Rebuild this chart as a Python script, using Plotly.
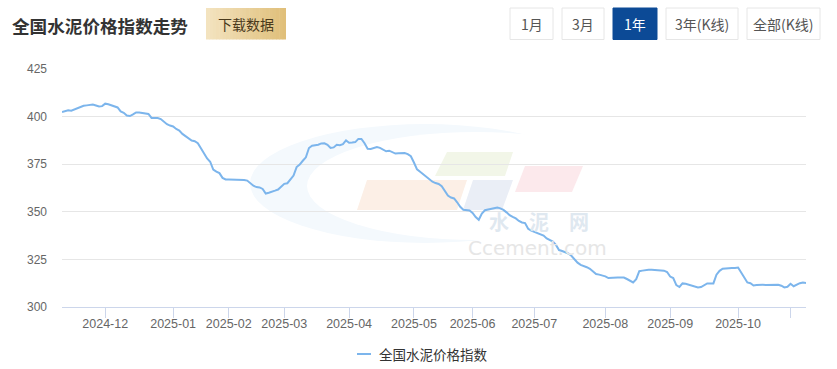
import plotly.graph_objects as go

# ---------------- data ----------------
months = ["2024-11", "2024-12", "2025-01", "2025-02", "2025-03", "2025-04", "2025-05",
          "2025-06", "2025-07", "2025-08", "2025-09", "2025-10", "2025-11"]
days_in_month = [
    [12, 13, 14, 15, 18, 19, 20, 21, 22, 25, 26, 27, 28, 29],
    [2, 3, 4, 5, 6, 9, 10, 11, 12, 13, 16, 17, 18, 19, 20, 23, 24, 25, 26, 27, 30, 31],
    [2, 3, 6, 7, 8, 9, 10, 13, 14, 15, 16, 17, 20, 21, 22, 23, 24, 27],
    [5, 6, 7, 10, 11, 12, 13, 14, 17, 18, 19, 20, 21, 24, 25, 26, 27, 28],
    [3, 4, 5, 6, 7, 10, 11, 12, 13, 14, 17, 18, 19, 20, 21, 24, 25, 26, 27, 28, 31],
    [1, 2, 3, 7, 8, 9, 10, 11, 14, 15, 16, 17, 18, 21, 22, 23, 24, 25, 28, 29, 30],
    [6, 7, 8, 9, 12, 13, 14, 15, 16, 19, 20, 21, 22, 23, 26, 27, 28, 29, 30],
    [3, 4, 5, 6, 9, 10, 11, 12, 13, 16, 17, 18, 19, 20, 23, 24, 25, 26, 27, 30],
    [1, 2, 3, 4, 7, 8, 9, 10, 11, 14, 15, 16, 17, 18, 21, 22, 23, 24, 25, 28, 29, 30, 31],
    [1, 4, 5, 6, 7, 8, 11, 12, 13, 14, 15, 18, 19, 20, 21, 22, 25, 26, 27, 28, 29],
    [1, 2, 3, 4, 5, 8, 9, 10, 11, 12, 15, 16, 17, 18, 19, 22, 23, 24, 25, 26, 29, 30],
    [9, 10, 13, 14, 15, 16, 17, 20, 21, 22, 23, 24, 27, 28, 29, 30, 31],
    [3, 4, 5, 6, 7, 10],
]
index_values = [
    # 2024-11
    402.4, 403.0, 403.3, 403.1, 403.8, 404.6, 405.4, 405.7, 405.9, 406.1, 406.3, 405.8, 405.3, 405.5,
    # 2024-12
    406.8, 406.5, 405.9, 405.2, 404.8, 402.7, 402.0, 400.6, 400.3, 401.2, 402.2, 402.2, 401.9, 401.4,
    401.4, 399.3, 399.3, 399.2, 398.7, 397.5, 396.0, 395.3,
    # 2025-01
    394.8, 393.5, 392.7, 390.9, 389.8, 388.9, 387.4, 387.1, 386.0, 383.4, 380.5, 378.0, 376.3, 372.2,
    371.1, 370.3, 367.8, 367.0,
    # 2025-02
    367.0, 367.0, 367.0, 366.9, 366.9, 366.7, 366.4, 365.1, 363.7, 363.0, 362.8, 362.0, 359.6, 360.0,
    360.4, 361.1, 361.7, 363.2,
    # 2025-03
    364.7, 365.0, 367.0, 369.0, 373.5, 374.8, 376.8, 378.6, 383.5, 384.7, 385.0, 385.2, 385.9, 386.0,
    385.2, 383.5, 383.8, 385.2, 385.0, 385.5, 387.5,
    # 2025-04
    386.3, 386.4, 386.6, 388.3, 388.3, 386.0, 383.1, 383.0, 383.5, 384.0, 383.6, 382.5, 381.8, 382.1,
    381.5, 380.6, 380.7, 381.0, 380.9, 380.3, 379.2,
    # 2025-05
    375.9, 372.3, 371.0, 369.7, 368.0, 366.7, 365.8, 365.1, 364.6, 363.4, 360.7, 358.5, 357.5, 357.0,
    355.0, 352.6, 351.1, 350.9, 350.7,
    # 2025-06
    349.4, 347.2, 345.8, 349.1, 350.8, 351.2, 351.6, 351.9, 352.2, 351.8, 351.0, 349.7, 348.2, 347.3,
    346.5, 345.2, 344.4, 344.1, 341.1, 340.1,
    # 2025-07
    339.5, 338.6, 338.0, 337.5, 336.0, 335.2, 334.4, 332.6, 329.9, 329.4, 328.9, 328.1, 326.9, 324.8,
    323.3, 322.1, 321.6, 320.9, 320.1, 318.5, 317.3, 317.0, 316.7,
    # 2025-08
    316.1, 315.2, 315.4, 315.5, 315.5, 315.5, 315.5, 314.7, 313.9, 312.9, 314.6, 318.8, 319.1, 319.4,
    319.6, 319.5, 319.4, 319.3, 319.3, 319.1, 318.4,
    # 2025-09
    316.0, 315.2, 311.5, 310.5, 312.4, 312.2, 311.8, 311.3, 310.7, 310.3, 310.5, 311.4, 312.4, 312.4,
    312.4, 317.0, 319.0, 320.1, 320.3, 320.5, 320.5, 320.5,
    # 2025-10
    320.7, 318.1, 315.7, 312.9, 312.5, 311.3, 311.5, 311.7, 311.7, 311.6, 311.6, 311.6, 311.6, 311.7,
    311.2, 310.3, 310.6,
    # 2025-11
    312.2, 310.9, 311.8, 312.5, 312.8, 312.6,
]
tick_dates = ["2024-12-02", "2025-01-02", "2025-02-05", "2025-03-03", "2025-04-01", "2025-05-06",
              "2025-06-03", "2025-07-01", "2025-08-01", "2025-09-01", "2025-10-09", "2025-11-03"]
tick_labels = ["2024-12", "2025-01", "2025-02", "2025-03", "2025-04", "2025-05",
               "2025-06", "2025-07", "2025-08", "2025-09", "2025-10", ""]
y_ticks = [300, 325, 350, 375, 400, 425]
series_name = "全国水泥价格指数"
title_text = "全国水泥价格指数走势"
range_buttons = ["1月", "3月", "1年", "3年(K线)", "全部(K线)"]
line_color = "#7cb5ec"

dates = [f"{m}-{d:02d}" for m, ds in zip(months, days_in_month) for d in ds]

# ---------------- layout helpers ----------------
W, H = 837, 369
L, R, T, B = 62, 31, 69, 62
PW, PH = W - L - R, H - T - B


def px(x):
    return (x - L) / PW


def py(y):
    return (H - B - y) / PH


FONT = "Liberation Sans, Arial, Noto Sans CJK SC, sans-serif"
CJK = "Noto Sans CJK SC, sans-serif"

fig = go.Figure()
fig.add_trace(go.Scatter(
    x=dates, y=index_values, mode="lines", name=series_name,
    line=dict(color=line_color, width=2), showlegend=False,
))

shapes = []
annotations = []

# --- watermark (Ccement logo) ---
shapes.append(dict(type="circle", xref="paper", yref="paper", layer="below",
                   x0=px(250), x1=px(600), y0=py(243), y1=py(124),
                   fillcolor="#f4f9fd", line=dict(width=0)))
shapes.append(dict(type="circle", xref="paper", yref="paper", layer="below",
                   x0=px(307), x1=px(645), y0=py(240), y1=py(132),
                   fillcolor="#ffffff", line=dict(width=0)))


def para(pts, color):
    d = "M " + " L ".join(f"{px(a):.5f},{py(b):.5f}" for a, b in pts) + " Z"
    return dict(type="path", path=d, xref="paper", yref="paper", layer="below",
                fillcolor=color, line=dict(width=0))


shapes.append(para([(447, 152), (513, 152), (505, 176), (435, 176)], "#f2f6e8"))
shapes.append(para([(525, 166), (583, 166), (572, 192), (515, 192)], "#fce9ec"))
shapes.append(para([(367, 180), (467, 180), (457, 210), (357, 210)], "#fcefe6"))
shapes.append(para([(473, 180), (513, 180), (502, 210), (463, 210)], "#eaeef6"))

annotations.append(dict(xref="paper", yref="paper", x=px(539), y=py(222), text="<b>水　泥　网</b>",
                        showarrow=False, font=dict(family=CJK, size=20, color="#dfe8f0"),
                        xanchor="center", yanchor="middle"))
annotations.append(dict(xref="paper", yref="paper", x=px(537), y=py(248), text="Ccement.com",
                        showarrow=False, font=dict(family="DejaVu Sans, sans-serif", size=20,
                                                   color="#e6e6e6"),
                        xanchor="center", yanchor="middle"))

# --- title ---
annotations.append(dict(xref="paper", yref="paper", x=px(10), y=py(26), text=f"<b>{title_text}</b>",
                        showarrow=False, font=dict(family=CJK, size=17.6, color="#333333"),
                        xanchor="left", yanchor="middle"))

# --- download button with gold gradient ---
bx0, bx1, by0, by1 = 206, 286, 8, 39.5
c0 = (0xf3, 0xe3, 0xbf)
c1 = (0xe0, 0xbf, 0x7a)
n = 24
for k in range(n):
    t = k / (n - 1)
    col = "#%02x%02x%02x" % tuple(int(round(c0[j] + (c1[j] - c0[j]) * t)) for j in range(3))
    xa = bx0 + (bx1 - bx0) * k / n
    xb = bx0 + (bx1 - bx0) * (k + 1) / n + 0.5
    shapes.append(dict(type="rect", xref="paper", yref="paper", x0=px(xa), x1=px(min(xb, bx1)),
                       y0=py(by1), y1=py(by0), fillcolor=col, line=dict(width=0)))
annotations.append(dict(xref="paper", yref="paper", x=px((bx0 + bx1) / 2), y=py(24), text="下载数据",
                        showarrow=False, font=dict(family=CJK, size=14, color="#4a3a1c"),
                        xanchor="center", yanchor="middle"))

# --- range buttons ---
btn_boxes = [(510, 553), (562, 604), (613, 657), (666, 738), (747, 820)]
for label, (a, b) in zip(range_buttons, btn_boxes):
    active = label == "1年"
    shapes.append(dict(type="rect", xref="paper", yref="paper", x0=px(a), x1=px(b),
                       y0=py(39.5), y1=py(8),
                       fillcolor="#0c4a96" if active else "#ffffff",
                       line=dict(color="#0c4a96" if active else "#e6e6e6", width=1)))
    annotations.append(dict(xref="paper", yref="paper", x=px((a + b) / 2), y=py(24), text=label,
                            showarrow=False,
                            font=dict(family=CJK, size=14, color="#ffffff" if active else "#555555"),
                            xanchor="center", yanchor="middle"))

# --- legend (Highcharts-style short line symbol) ---
shapes.append(dict(type="line", xref="paper", yref="paper", x0=px(357), x1=px(371),
                   y0=py(354), y1=py(354), line=dict(color=line_color, width=2)))
annotations.append(dict(xref="paper", yref="paper", x=px(377), y=py(354), text=series_name,
                        showarrow=False, font=dict(family=CJK, size=13.5, color="#333333"),
                        xanchor="left", yanchor="middle"))

fig.update_layout(
    width=W, height=H,
    margin=dict(l=L, r=R, t=T, b=B, pad=0),
    paper_bgcolor="#ffffff", plot_bgcolor="#ffffff",
    font=dict(family=FONT, size=12, color="#666666"),
    showlegend=False,
    shapes=shapes, annotations=annotations,
    xaxis=dict(type="category", categoryorder="trace", range=[0, len(dates) - 1],
               tickmode="array", tickvals=tick_dates, ticktext=tick_labels,
               ticks="outside", ticklen=10, tickwidth=1, tickcolor="#ccd6eb",
               showline=True, linecolor="#ccd6eb", linewidth=1, showgrid=False,
               ticklabelstandoff=-5,
               tickfont=dict(family=FONT, size=12.5, color="#666666"), tickangle=0,
               fixedrange=True),
    yaxis=dict(range=[300, 425], tickmode="array", tickvals=y_ticks,
               showgrid=True, gridcolor="#e6e6e6", gridwidth=1, zeroline=False,
               showline=False, ticks="", ticklabelstandoff=14,
               tickfont=dict(family=FONT, size=12, color="#666666"), fixedrange=True),
)

fig.write_html("out.html", config={"displayModeBar": False},
               post_script="document.body.style.margin='0';")
